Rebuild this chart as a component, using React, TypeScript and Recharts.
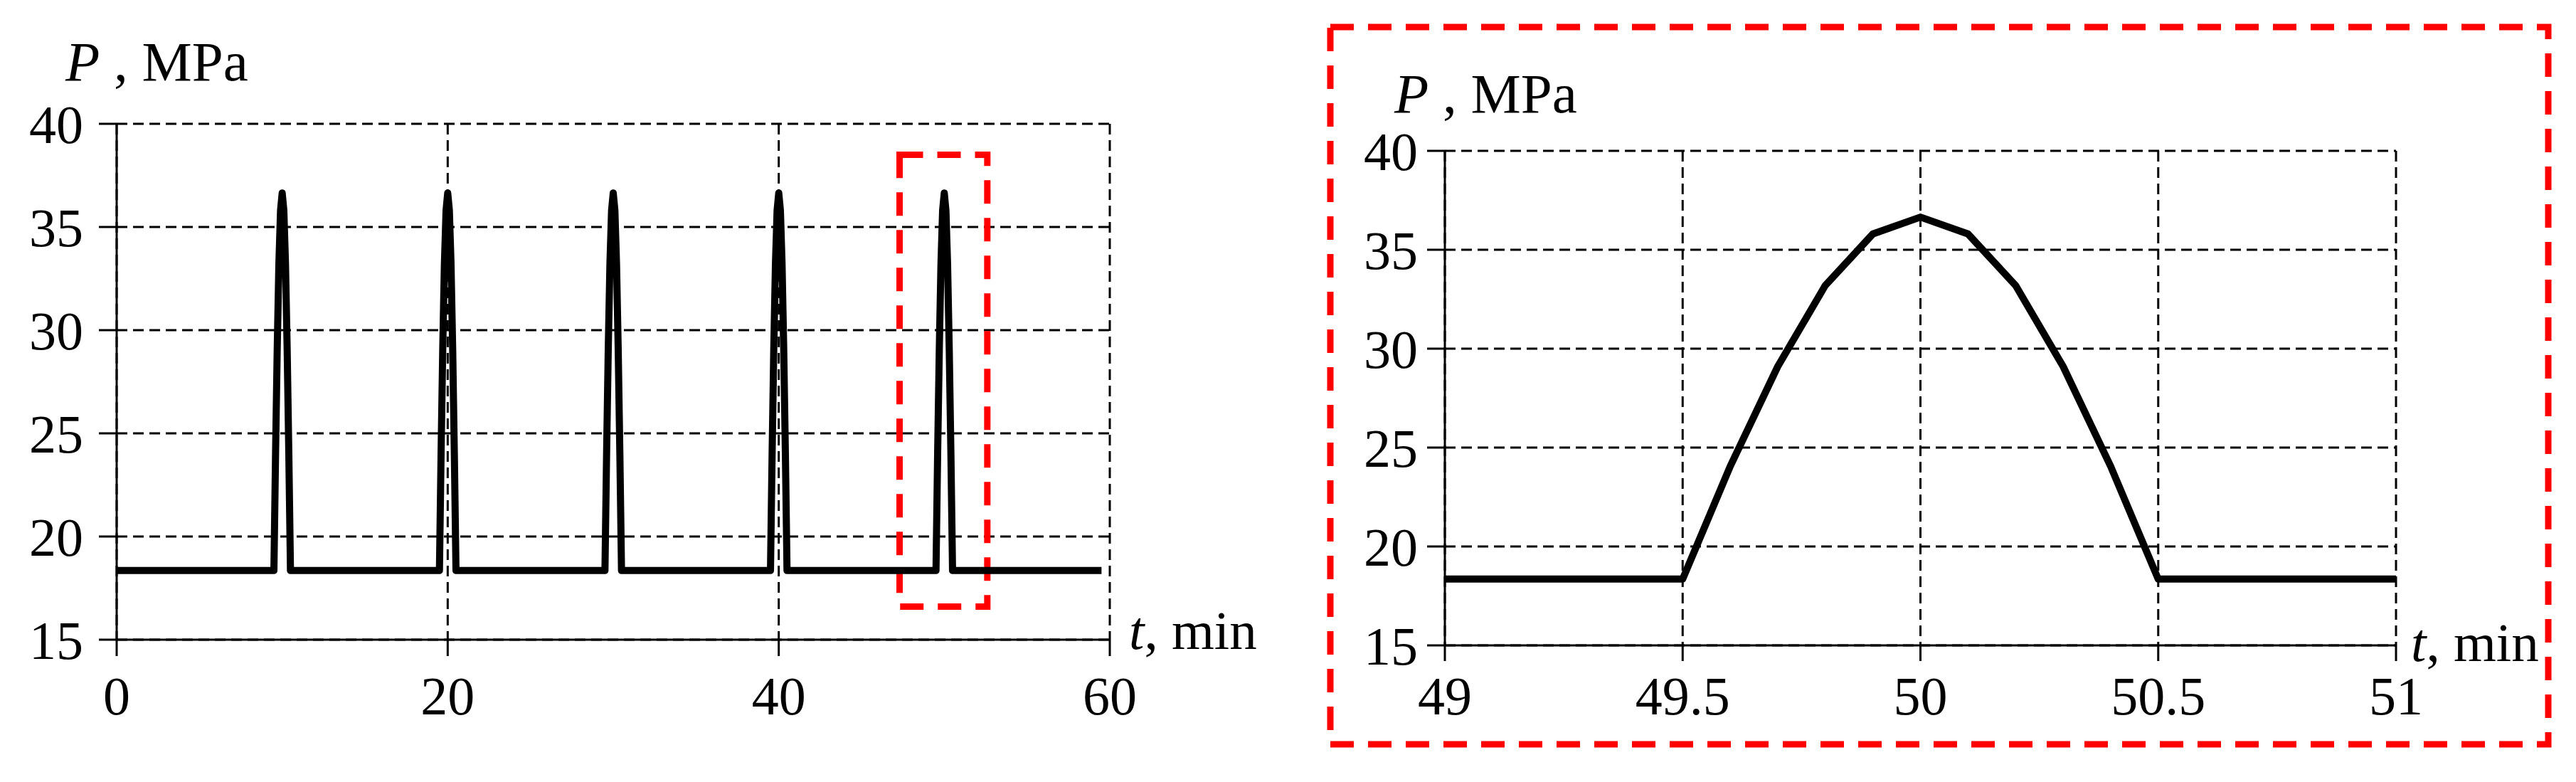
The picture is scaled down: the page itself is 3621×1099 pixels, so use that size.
import {
  CartesianGrid,
  Line,
  LineChart,
  ReferenceArea,
  XAxis,
  YAxis,
} from "recharts";

// one pressure pulse (offset from pulse centre, min)
const pulseOffset = [-0.5, -0.4, -0.3, -0.2, -0.1, 0, 0.1, 0.2, 0.3, 0.4, 0.5];
const pulsePressure = [18.35, 24.05, 29.1, 33.2, 35.8, 36.65, 35.8, 33.2, 29.1, 24.05, 18.35];

// overview panel
const pulseCenters = [10, 20, 30, 40, 50];
const baseLevel = 18.35;
const overviewStart = 0;
const overviewEnd = 59.5;
const overviewTicks = [0, 20, 40, 60];

// zoomed panel
const detailTime = [49, 49.5, 49.6, 49.7, 49.8, 49.9, 50, 50.1, 50.2, 50.3, 50.4, 50.5, 51];
const detailPressure = [18.35, 18.35, 24.05, 29.1, 33.2, 35.8, 36.65, 35.8, 33.2, 29.1, 24.05, 18.35, 18.35];
const detailTicks = [49, 49.5, 50, 50.5, 51];

const pressureTicks = [15, 20, 25, 30, 35, 40];

const overviewData = [
  { t: overviewStart, p: baseLevel },
  ...pulseCenters.flatMap((c) =>
    pulseOffset.map((o, i) => ({ t: Math.round((c + o) * 10) / 10, p: pulsePressure[i] })),
  ),
  { t: overviewEnd, p: baseLevel },
];

const detailData = detailTime.map((t, i) => ({ t, p: detailPressure[i] }));

const FONT = "'Liberation Serif', 'Times New Roman', serif";
const tickStyle = { fill: "#000", fontSize: 76, fontFamily: FONT };
const axisStroke = { stroke: "#000", strokeWidth: 3 };

export default function App() {
  return (
    <div
      style={{
        position: "absolute",
        left: 0,
        top: 0,
        width: 3621,
        height: 1099,
        background: "#fff",
        fontFamily: FONT,
        overflow: "hidden",
      }}
    >
      <div style={{ position: "absolute", left: 0, top: 0 }}>
        <LineChart
          width={1700}
          height={1099}
          data={overviewData}
          margin={{ top: 174, right: 140, bottom: 100, left: 64 }}
        >
          <CartesianGrid stroke="#000" strokeWidth={3} strokeDasharray="15 8" />
          <XAxis
            type="number"
            dataKey="t"
            domain={[0, 60]}
            ticks={overviewTicks}
            height={100}
            tick={tickStyle}
            tickSize={23}
            tickMargin={28}
            axisLine={axisStroke}
            tickLine={axisStroke}
          />
          <YAxis
            type="number"
            domain={[15, 40]}
            ticks={pressureTicks}
            width={100}
            tick={tickStyle}
            tickSize={25}
            tickMargin={22}
            axisLine={axisStroke}
            tickLine={axisStroke}
          />
          <ReferenceArea
            x1={47.3}
            x2={52.6}
            y1={16.6}
            y2={38.5}
            fill="none"
            fillOpacity={0}
            stroke="#ff0000"
            strokeWidth={9}
            strokeDasharray="33 20"
            ifOverflow="visible"
          />
          <Line
            type="linear"
            dataKey="p"
            stroke="#000"
            strokeWidth={10}
            strokeLinejoin="round"
            dot={false}
            isAnimationActive={false}
          />
        </LineChart>
      </div>

      <div style={{ position: "absolute", left: 1900, top: 0 }}>
        <LineChart
          width={1721}
          height={1099}
          data={detailData}
          margin={{ top: 212, right: 253, bottom: 92, left: 31 }}
        >
          <CartesianGrid stroke="#000" strokeWidth={3} strokeDasharray="15 8" />
          <XAxis
            type="number"
            dataKey="t"
            domain={[49, 51]}
            ticks={detailTicks}
            height={100}
            tick={tickStyle}
            tickSize={22}
            tickMargin={21}
            axisLine={axisStroke}
            tickLine={axisStroke}
          />
          <YAxis
            type="number"
            domain={[15, 40]}
            ticks={pressureTicks}
            width={100}
            tick={tickStyle}
            tickSize={25}
            tickMargin={13}
            axisLine={axisStroke}
            tickLine={axisStroke}
          />
          <Line
            type="linear"
            dataKey="p"
            stroke="#000"
            strokeWidth={10}
            strokeLinejoin="round"
            dot={false}
            isAnimationActive={false}
          />
        </LineChart>
      </div>

      <svg
        width={3621}
        height={1099}
        style={{ position: "absolute", left: 0, top: 0, pointerEvents: "none" }}
        fontFamily={FONT}
        fontSize={79}
        fill="#000"
      >
        <text x={92} y={113}>
          <tspan fontStyle="italic">P</tspan>
          <tspan> , MPa</tspan>
        </text>
        <text x={1587} y={912} fontSize={77}>
          <tspan fontStyle="italic">t</tspan>
          <tspan>, min</tspan>
        </text>
        <text x={1960} y={158}>
          <tspan fontStyle="italic">P</tspan>
          <tspan> , MPa</tspan>
        </text>
        <text x={3389} y={929} fontSize={77}>
          <tspan fontStyle="italic">t</tspan>
          <tspan>, min</tspan>
        </text>
        <rect
          x={1870}
          y={38}
          width={1712}
          height={1008}
          fill="none"
          stroke="#ff0000"
          strokeWidth={9}
          strokeDasharray="33 20"
        />
      </svg>
    </div>
  );
}
